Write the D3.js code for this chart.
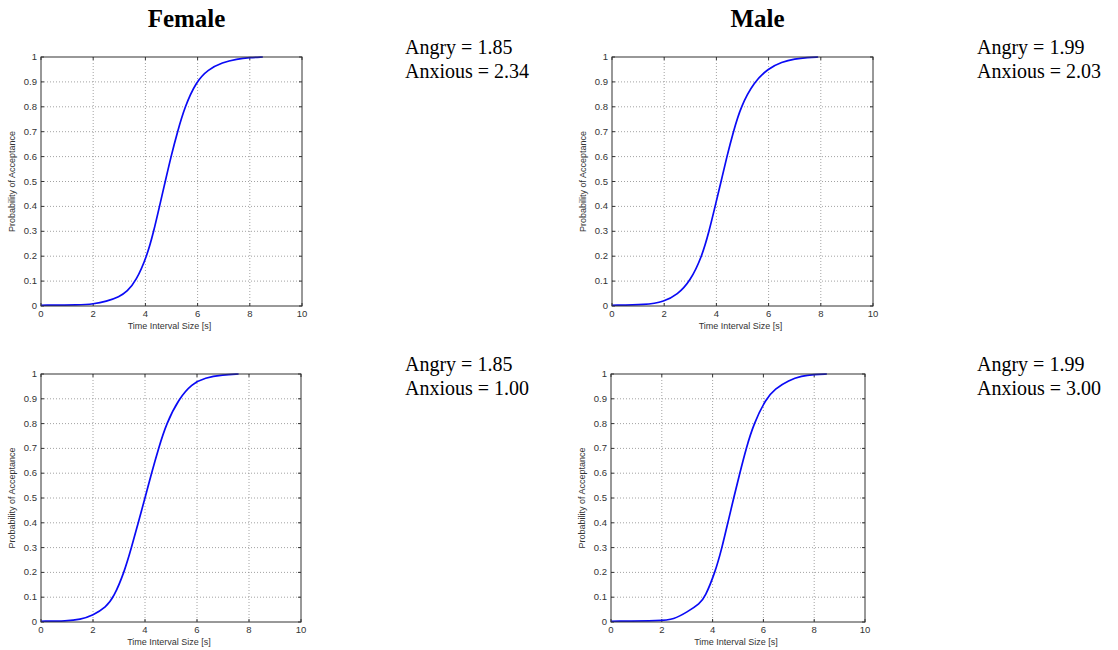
<!DOCTYPE html>
<html>
<head>
<meta charset="utf-8">
<script src="https://cdn.jsdelivr.net/npm/d3@7"></script>
<style>
  body { margin: 0; background: #fff; }
  svg { display: block; }
  .tick-label { font-family: "Liberation Sans", Arial, sans-serif; font-size: 9.5px; fill: #333; }
  .axis-label { font-family: "Liberation Sans", Arial, sans-serif; font-size: 9px; fill: #333; }
  .col-title { font-family: "Liberation Serif", "Times New Roman", serif; font-size: 25px; font-weight: bold; fill: #000; }
  .note { font-family: "Liberation Serif", "Times New Roman", serif; font-size: 20px; fill: #000; }
</style>
</head>
<body>
<svg id="chart" width="1118" height="650"></svg>
<script>
  // column titles and the parameters written next to each panel
  var colTitles = ['Female', 'Male'];
  var angryVals = [1.85, 1.99, 1.85, 1.99];
  var anxiousVals = [2.34, 2.03, 1.00, 3.00];

  var xTicks = [0, 2, 4, 6, 8, 10];
  var yTicks = [0, 0.1, 0.2, 0.3, 0.4, 0.5, 0.6, 0.7, 0.8, 0.9, 1];

  // curves: time [s] and probability of acceptance
  var femaleTopT = [0, 1.5, 2, 2.5, 3, 3.3, 3.64, 4.06, 4.32, 4.54, 4.76, 4.98, 5.23, 5.51, 5.94, 6.4, 6.95, 7.5, 8, 8.5];
  var femaleTopP = [0.003, 0.004, 0.008, 0.018, 0.037, 0.058, 0.1, 0.2, 0.3, 0.4, 0.5, 0.6, 0.7, 0.8, 0.9, 0.95, 0.978, 0.992, 0.998, 1];

  var maleTopT = [0, 1.3, 2, 2.5, 3, 3.45, 3.72, 3.95, 4.18, 4.4, 4.65, 4.93, 5.44, 6, 6.5, 7, 7.5, 7.9];
  var maleTopP = [0.003, 0.004, 0.018, 0.045, 0.1, 0.2, 0.3, 0.4, 0.5, 0.6, 0.7, 0.8, 0.9, 0.955, 0.98, 0.993, 0.998, 1];

  var femaleBotT = [0, 1, 1.5, 2, 2.5, 2.8, 3.2, 3.48, 3.74, 4.0, 4.25, 4.52, 4.82, 5.3, 5.8, 6.3, 7, 7.6];
  var femaleBotP = [0.003, 0.004, 0.01, 0.027, 0.06, 0.1, 0.2, 0.3, 0.4, 0.5, 0.6, 0.7, 0.8, 0.9, 0.96, 0.985, 0.997, 1];

  var maleBotT = [0, 2, 2.45, 3, 3.5, 3.7, 4.1, 4.37, 4.6, 4.83, 5.07, 5.32, 5.62, 6.1, 6.45, 7, 7.5, 8, 8.5];
  var maleBotP = [0.003, 0.005, 0.01, 0.04, 0.075, 0.1, 0.2, 0.3, 0.4, 0.5, 0.6, 0.7, 0.8, 0.9, 0.94, 0.975, 0.992, 0.998, 1];

  var curves = [
    [femaleTopT, femaleTopP],
    [maleTopT, maleTopP],
    [femaleBotT, femaleBotP],
    [maleBotT, maleBotP]
  ];

  // panel boxes on the page
  var boxes = [
    { x: 41, y: 57, w: 261, h: 249, noteX: 405 },
    { x: 612, y: 57, w: 261, h: 249, noteX: 977 },
    { x: 41, y: 374, w: 260, h: 248, noteX: 405 },
    { x: 611, y: 374, w: 254, h: 248, noteX: 977 }
  ];

  var svg = d3.select('#chart');

  svg.selectAll('text.col-title')
    .data(colTitles)
    .enter().append('text')
    .attr('class', 'col-title')
    .attr('x', function (d, i) { return boxes[i].x + boxes[i].w / 2 + 15; })
    .attr('y', 27)
    .attr('text-anchor', 'middle')
    .text(function (d) { return d; });

  boxes.forEach(function (b, i) {
    var x = d3.scaleLinear().domain([0, 10]).range([b.x, b.x + b.w]),
      y = d3.scaleLinear().domain([0, 1]).range([b.y + b.h, b.y]),
      g = svg.append('g');

    // dotted grid
    g.selectAll('line.vgrid')
      .data(xTicks.slice(1, -1))
      .enter().append('line')
      .attr('x1', function (d) { return x(d); })
      .attr('x2', function (d) { return x(d); })
      .attr('y1', b.y).attr('y2', b.y + b.h)
      .attr('stroke', '#8a8a8a').attr('stroke-width', 0.8)
      .attr('stroke-dasharray', '1,2');

    g.selectAll('line.hgrid')
      .data(yTicks.slice(1, -1))
      .enter().append('line')
      .attr('y1', function (d) { return y(d); })
      .attr('y2', function (d) { return y(d); })
      .attr('x1', b.x).attr('x2', b.x + b.w)
      .attr('stroke', '#8a8a8a').attr('stroke-width', 0.8)
      .attr('stroke-dasharray', '1,2');

    // inward ticks on all four sides, matlab style
    var tickLen = 3;
    xTicks.forEach(function (d) {
      g.append('line').attr('x1', x(d)).attr('x2', x(d))
        .attr('y1', b.y + b.h).attr('y2', b.y + b.h - tickLen)
        .attr('stroke', '#333');
      g.append('line').attr('x1', x(d)).attr('x2', x(d))
        .attr('y1', b.y).attr('y2', b.y + tickLen)
        .attr('stroke', '#333');
    });
    yTicks.forEach(function (d) {
      g.append('line').attr('y1', y(d)).attr('y2', y(d))
        .attr('x1', b.x).attr('x2', b.x + tickLen)
        .attr('stroke', '#333');
      g.append('line').attr('y1', y(d)).attr('y2', y(d))
        .attr('x1', b.x + b.w).attr('x2', b.x + b.w - tickLen)
        .attr('stroke', '#333');
    });

    // tick labels
    g.selectAll('text.xl')
      .data(xTicks)
      .enter().append('text')
      .attr('class', 'tick-label')
      .attr('x', function (d) { return x(d); })
      .attr('y', b.y + b.h + 11)
      .attr('text-anchor', 'middle')
      .text(function (d) { return d; });

    g.selectAll('text.yl')
      .data(yTicks)
      .enter().append('text')
      .attr('class', 'tick-label')
      .attr('x', b.x - 4)
      .attr('y', function (d) { return y(d) + 3; })
      .attr('text-anchor', 'end')
      .text(function (d) { return d; });

    g.append('text')
      .attr('class', 'axis-label')
      .attr('x', b.x + b.w / 2 - 2)
      .attr('y', b.y + b.h + 23)
      .attr('text-anchor', 'middle')
      .text('Time Interval Size [s]');

    g.append('text')
      .attr('class', 'axis-label')
      .attr('transform', 'translate(' + (b.x - 26) + ',' + (b.y + b.h / 2) + ') rotate(-90)')
      .attr('text-anchor', 'middle')
      .text('Probability of Acceptance');

    // curve
    var pts = d3.zip(curves[i][0], curves[i][1]);
    var line = d3.line()
      .x(function (d) { return x(d[0]); })
      .y(function (d) { return y(d[1]); })
      .curve(d3.curveBasis);

    g.append('path')
      .datum(pts)
      .attr('fill', 'none')
      .attr('stroke', '#0a0af5')
      .attr('stroke-width', 1.7)
      .attr('d', line);

    // box
    g.append('rect')
      .attr('x', b.x).attr('y', b.y)
      .attr('width', b.w).attr('height', b.h)
      .attr('fill', 'none')
      .attr('stroke', '#333').attr('stroke-width', 1);

    // parameter notes
    g.append('text').attr('class', 'note')
      .attr('x', b.noteX).attr('y', b.y - 3)
      .text('Angry = ' + angryVals[i].toFixed(2));
    g.append('text').attr('class', 'note')
      .attr('x', b.noteX).attr('y', b.y + 21)
      .text('Anxious = ' + anxiousVals[i].toFixed(2));
  });
</script>
</body>
</html>
